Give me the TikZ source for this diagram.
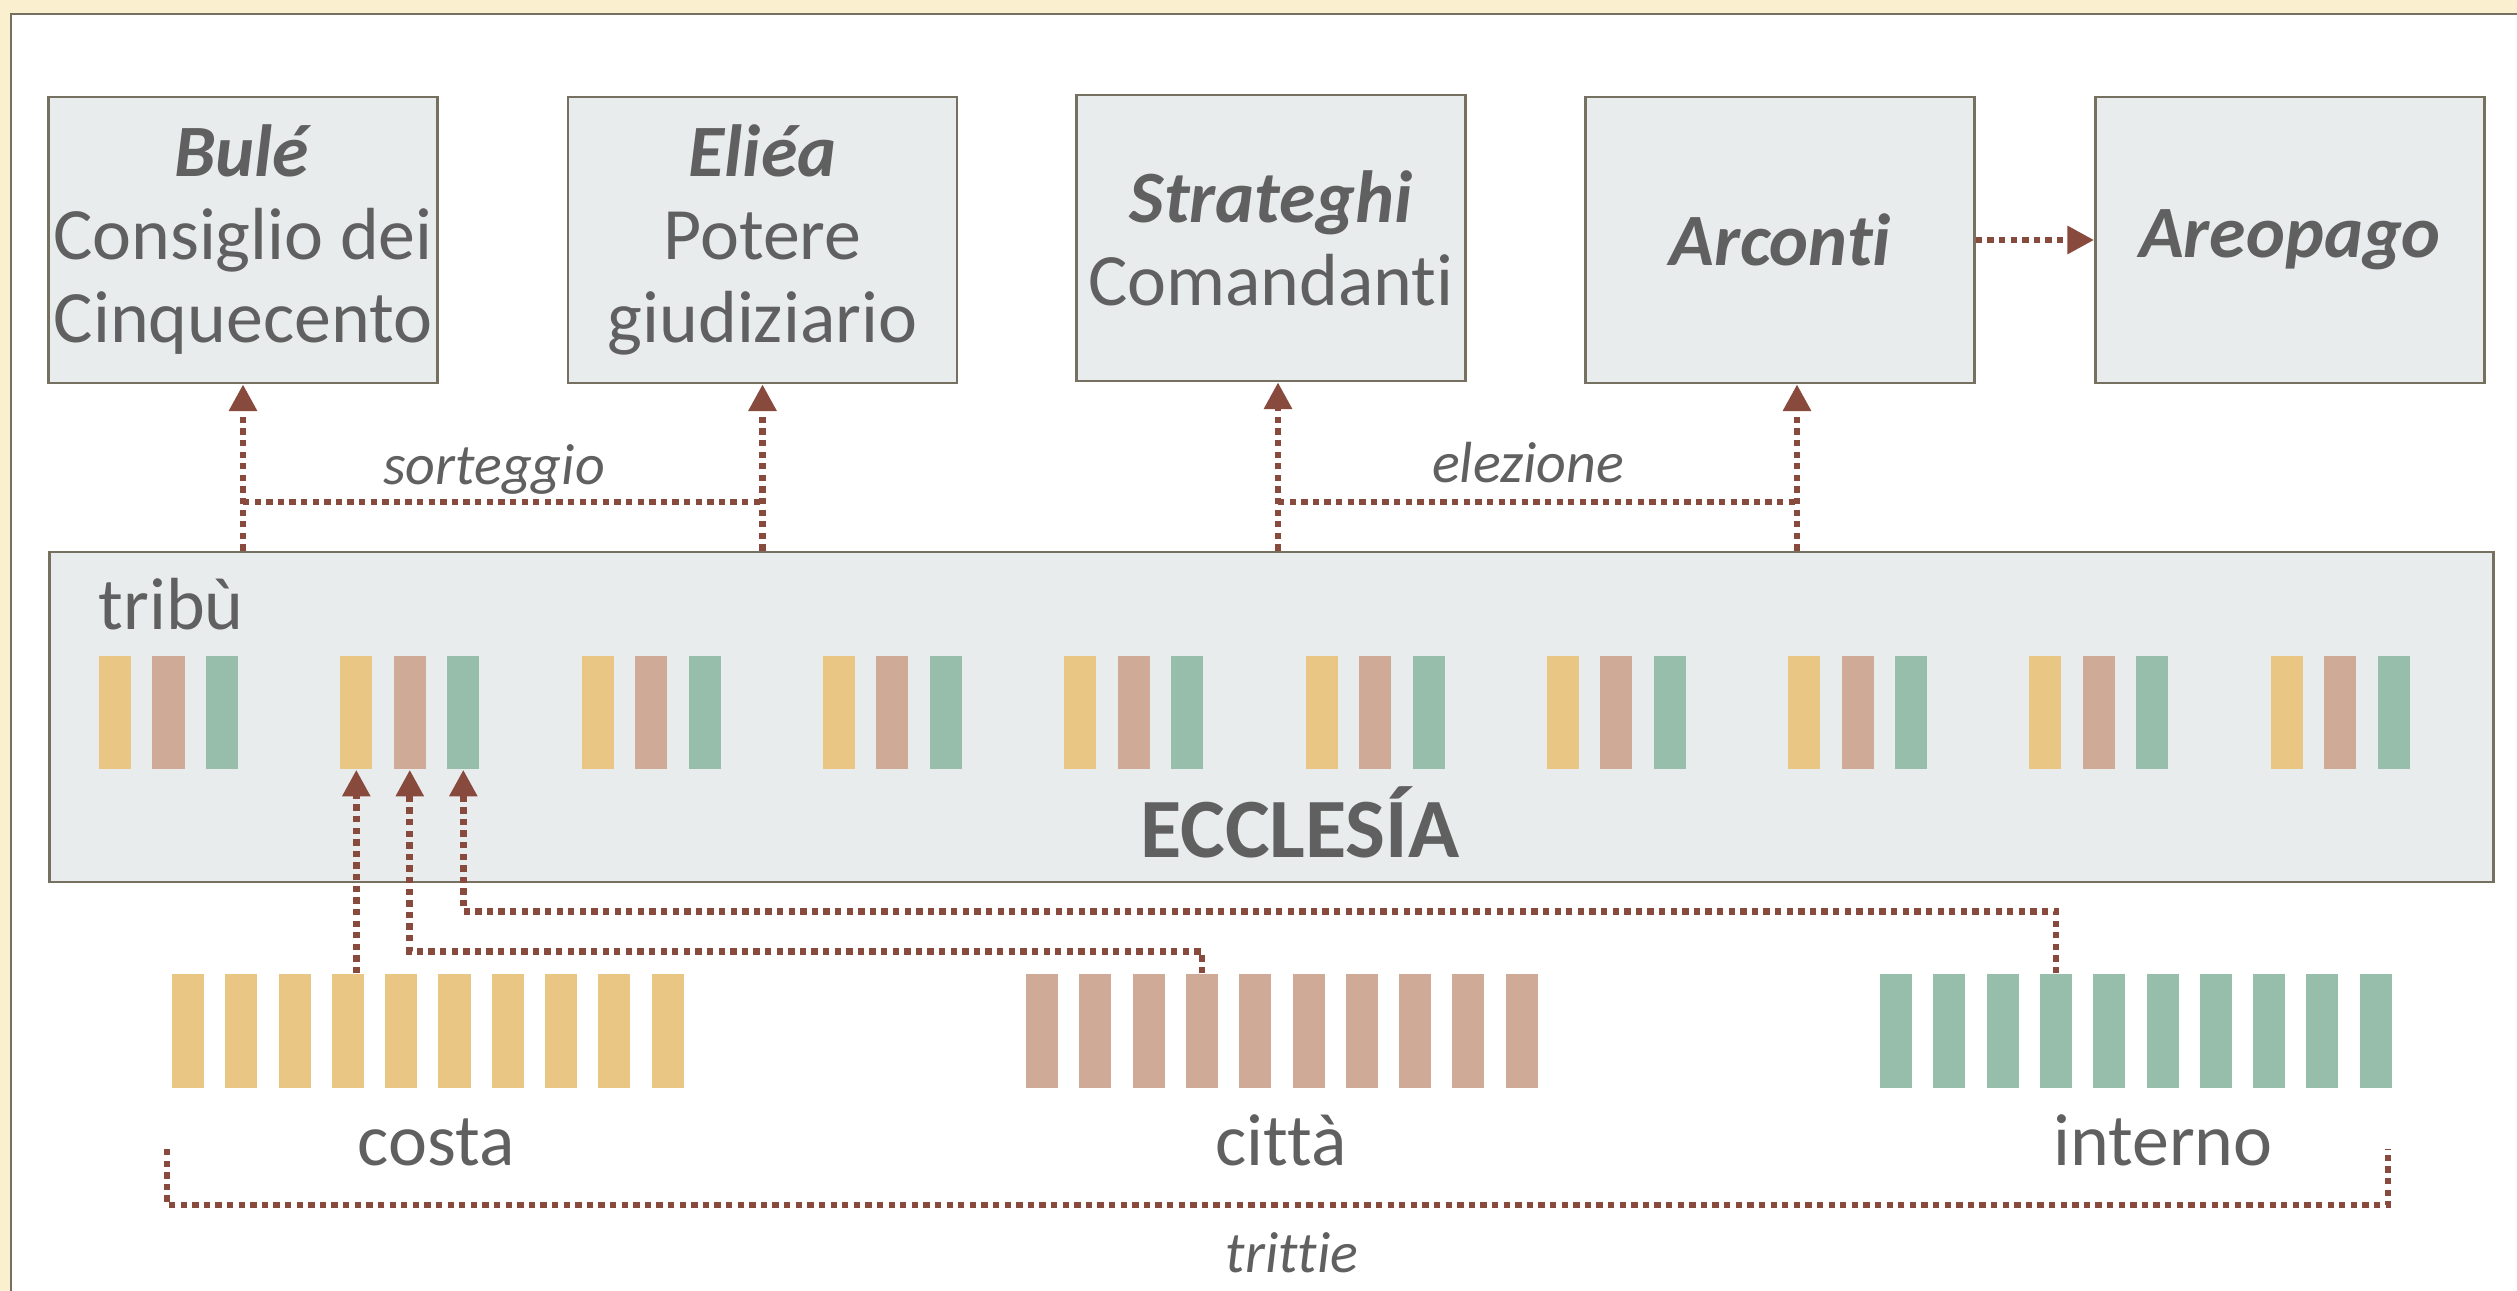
\documentclass[tikz,border=0pt]{standalone}
\usepackage{fontspec}
\setmainfont{Carlito}[Ligatures={NoCommon}]
\usetikzlibrary{arrows.meta}
\definecolor{parchment}{RGB}{250,240,208}
\definecolor{framegray}{RGB}{118,112,96}
\definecolor{boxfill}{RGB}{232,236,237}
\definecolor{inkgray}{RGB}{96,96,96}
\definecolor{rust}{RGB}{137,74,62}
\definecolor{costacol}{RGB}{233,198,132}
\definecolor{cittacol}{RGB}{207,171,151}
\definecolor{internocol}{RGB}{151,189,171}
\tikzset{
  office/.style={rectangle,draw=framegray,fill=boxfill,line width=0.7pt,
    minimum width=3.89cm,minimum height=2.86cm,inner sep=0pt,align=center,
    text=inkgray,font=\fontsize{21}{23.6}\selectfont},
  bar/.style={rectangle,inner sep=0pt,minimum width=0.32cm,minimum height=1.13cm},
  dotline/.style={color=rust,line width=1.9pt,dash pattern=on 1.8pt off 1.5pt},
  dotarr/.style={dotline,-{Triangle[width=7.6pt,length=7.6pt]}},
  lbl/.style={text=inkgray,inner sep=0pt,font=\fontsize{21}{24}\selectfont},
  smalllbl/.style={text=inkgray,inner sep=0pt,font=\fontsize{16.5}{20}\selectfont\itshape}
}
\begin{document}
\begin{tikzpicture}[x=0.01cm,y=-0.01cm]
  \useasboundingbox (0,0) rectangle (2517,1291);
  \fill[color=parchment] (0,0) rectangle (2517,1291);
  \draw[color=framegray,fill=white,line width=0.8pt] (11,14) rectangle (2540,1320);
%%% offices
  \node[office] (bule)  at (243,240)  {\textbf{\textit{Bulé}}\\Consiglio dei\\Cinquecento};
  \node[office] (elia)  at (762.5,240) {\textbf{\textit{Eliéa}}\\Potere\\giudiziario};
  \node[office] (strat) at (1271,238) {\textbf{\textit{Strateghi}}\\Comandanti};
  \node[office] (arco)  at (1780,240) {\textbf{\textit{Arconti}}};
  \node[office] (areo)  at (2290,240) {\textbf{\textit{Areopago}}};
%%% ecclesia
  \node[office,minimum width=24.43cm,minimum height=3.3cm] (eccl) at (1271.5,717) {};
  \node[lbl,anchor=base west] (tribu) at (98,629) {tribù};
  \node[lbl,anchor=base,font=\fontsize{24}{28}\selectfont\bfseries] (ecclname) at (1300,857) {ECCLESÍA};
  \foreach \g in {0,...,9} {
    \node[bar,fill=costacol]   (t\g-a) at (115+\g*241.3,712.5) {};
    \node[bar,fill=cittacol]   (t\g-b) at (168.5+\g*241.3,712.5) {};
    \node[bar,fill=internocol] (t\g-c) at (222+\g*241.3,712.5) {};
  }
%%% trittie
  \foreach \i in {0,...,9} {
    \node[bar,fill=costacol,minimum height=1.14cm]   (co-\i) at (188+\i*53.3,1031) {};
    \node[bar,fill=cittacol,minimum height=1.14cm]   (ci-\i) at (1042+\i*53.3,1031) {};
    \node[bar,fill=internocol,minimum height=1.14cm] (in-\i) at (1896+\i*53.3,1031) {};
  }
  \node[lbl,anchor=base] (costa)   at (436,1165)  {costa};
  \node[lbl,anchor=base] (citta)   at (1281,1165) {città};
  \node[lbl,anchor=base] (interno) at (2163,1165) {interno};
%%% sorteggio
  \coordinate (sortrow) at (0,502);
  \draw[dotarr] (eccl.north -| bule.south) -- (bule.south);
  \draw[dotarr] (eccl.north -| elia.south) -- (elia.south);
  \draw[dotline] (bule.south |- sortrow) -- (elia.south |- sortrow);
  \node[smalllbl,anchor=base] (sorteggio) at (494,484) {sorteggio};
%%% elezione
  \coordinate (elL) at (1278,502);
  \coordinate (elR) at (1797,502);
  \draw[dotarr] (elL |- eccl.north) -- (elL |- strat.south);
  \draw[dotarr] (elR |- eccl.north) -- (elR |- arco.south);
  \draw[dotline] (elL) -- (elR);
  \node[smalllbl,anchor=base] (elezione) at (1528,482) {elezione};
  \draw[dotarr] (arco.east) -- (areo.west);
%%% from trittie to tribes
  \draw[dotarr] (t1-a.south |- co-3.north) -- (t1-a.south);
  \draw[dotarr] (ci-3.north) -- ++(0,-22) -| (t1-b.south);
  \draw[dotarr] (in-3.north) -- ++(0,-62) -| (t1-c.south);
  \coordinate (trL) at (167,1149);
  \coordinate (trR) at (2388,1149);
  \draw[dotline] (trL) -- ++(0,56) -| (trR);
  \node[smalllbl,anchor=base] (trittie) at (1292,1272) {trittie};
\end{tikzpicture}
\end{document}
